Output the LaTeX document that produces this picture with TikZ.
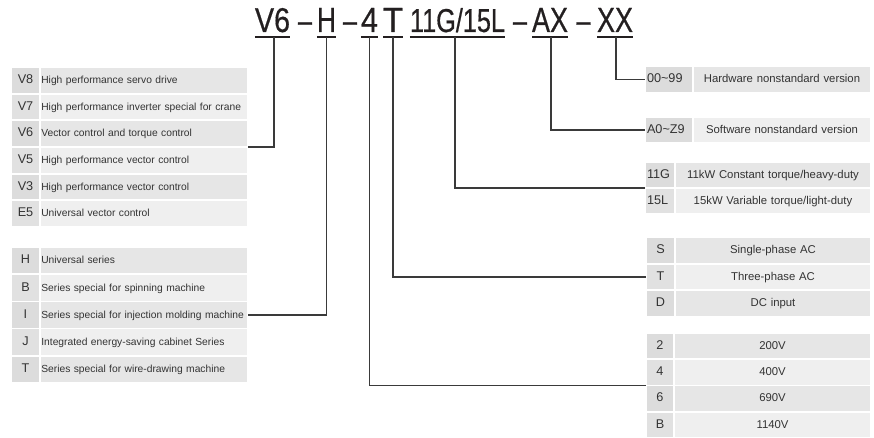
\documentclass[tikz,border=0pt]{standalone}
\usepackage{fontspec}
\setmainfont{Liberation Sans}
\newfontfamily\titlefont{Liberation Sans}[FakeBold=0.6]
\usetikzlibrary{calc}
\definecolor{cD}{HTML}{DCDCDC}
\definecolor{cL}{HTML}{E1E1E1}
\definecolor{dD}{HTML}{E6E6E6}
\definecolor{dL}{HTML}{EFEFEF}
\definecolor{txt}{HTML}{333333}
\definecolor{titlec}{HTML}{231F20}
\definecolor{linec}{HTML}{3A3A3A}
\newcommand\codefont{\fontsize{9.5}{11}\selectfont}
\newcommand\ldfont{\fontsize{7.7}{10}\selectfont}
\newcommand\rdfont{\fontsize{8.5}{10}\selectfont}
\newcommand\tk[2]{\resizebox{#1}{18pt}{\titlefont\fontsize{25}{25}\selectfont #2}}
\newcommand\tdash{\scalebox{0.75}[1]{\titlefont\fontsize{25}{25}\selectfont –}}
% #1 name, #2 x, #3 y, #4 code style, #5 desc style, #6 height, #7 code, #8 desc
\newcommand\trow[8]{%
  \node[cell,#4,minimum height=#6] (#1c) at (#2,#3) {#7};
  \node[cell,#5,minimum height=#6] (#1) at (#1c.north east) {#8};}
\begin{document}
\begin{tikzpicture}[x=0.75pt,y=-0.75pt,
  cell/.style={draw=white, line width=1.3pt, anchor=north west, inner ysep=0pt,
    inner xsep=2pt, outer sep=0pt, text height=7pt, text depth=2pt, text=txt},
  lcode/.style={text width=17.75pt, align=center, font=\codefont},
  ldesc/.style={text width=154pt, inner xsep=1pt, align=left, font=\ldfont},
  rcodeA/.style={align=left, font=\codefont, inner xsep=1.5pt, text width=33pt},
  rdescA/.style={text width=129.5pt, align=center, font=\rdfont},
  rcodeB/.style={text width=19.5pt, align=left, font=\codefont, inner xsep=1.5pt},
  rdescB/.style={text width=143pt, align=center, font=\rdfont},
  rcodeC/.style={text width=17.75pt, align=center, font=\codefont},
  rdescC/.style={text width=143pt, align=center, font=\rdfont},
  rcodeD/.style={text width=17pt, align=center, font=\codefont},
  rdescD/.style={text width=143.75pt, align=center, font=\rdfont},
  title/.style={inner sep=0pt, outer sep=0pt, anchor=base, text=titlec},
  uline/.style={draw=titlec, line width=1.2pt},
  conn/.style={draw=linec, line width=1.1pt}]
\useasboundingbox (0,0) rectangle (874,438);

% ---- title code ----
\node[title] (tV) at (272.5,32) {\tk{26.3pt}{V6}};
\node[title] (d1) at (305,32) {\tdash};
\node[title] (tH) at (326.5,32) {\tk{14.3pt}{H}};
\node[title] (d2) at (350,32) {\tdash};
\node[title] (t4) at (369.5,32) {\tk{12.8pt}{4}};
\node[title] (tT) at (393,32) {\tk{15pt}{T}};
\node[title] (tG) at (457.5,32) {\tk{71.3pt}{11G/15L}};
\node[title] (d3) at (520,32) {\tdash};
\node[title] (tA) at (550,32) {\tk{27pt}{AX}};
\node[title] (d4) at (583.5,32) {\tdash};
\node[title] (tX) at (615,32) {\tk{27pt}{XX}};
\foreach \t in {tV,tH,t4,tT,tG,tA,tX}
  \draw[uline] ($(\t.base west)+(0,5)$) -- ($(\t.base east)+(0,5)$);

% ---- left table 1 ----
\trow{V8}{11}{67}{lcode,fill=cD}{ldesc,fill=dD}{20pt}{V8}{High performance servo drive}
\trow{V7}{11}{93.67}{lcode,fill=cL}{ldesc,fill=dL}{20pt}{V7}{High performance inverter special for crane}
\trow{V6}{11}{120.33}{lcode,fill=cD}{ldesc,fill=dD}{20pt}{V6}{Vector control and torque control}
\trow{V5}{11}{147}{lcode,fill=cL}{ldesc,fill=dL}{20pt}{V5}{High performance vector control}
\trow{V3}{11}{173.67}{lcode,fill=cD}{ldesc,fill=dD}{20pt}{V3}{High performance vector control}
\trow{E5}{11}{200.33}{lcode,fill=cL}{ldesc,fill=dL}{20pt}{E5}{Universal vector control}

% ---- left table 2 ----
\trow{sH}{11}{247}{lcode,fill=cD}{ldesc,fill=dD}{20.4pt}{H}{Universal series}
\trow{sB}{11}{274.2}{lcode,fill=cL}{ldesc,fill=dL}{20.4pt}{B}{Series special for spinning machine}
\trow{sI}{11}{301.4}{lcode,fill=cD}{ldesc,fill=dD}{20.4pt}{I}{Series special for injection molding machine}
\trow{sJ}{11}{328.6}{lcode,fill=cL}{ldesc,fill=dL}{20.4pt}{J}{Integrated energy-saving cabinet Series}
\trow{sT}{11}{355.8}{lcode,fill=cD}{ldesc,fill=dD}{20.4pt}{T}{Series special for wire-drawing machine}

% ---- right tables ----
\trow{rX}{645}{66}{rcodeA,fill=cD}{rdescA,fill=dD}{20.25pt}{00\textasciitilde 99}{Hardware nonstandard version}
\trow{rA}{645}{117}{rcodeA,fill=cD}{rdescA,fill=dL}{19.5pt}{A0\textasciitilde Z9}{Software nonstandard version}
\trow{r11}{645}{162}{rcodeB,fill=cD}{rdescB,fill=dD}{19.5pt}{11G}{11kW Constant torque/heavy-duty}
\trow{r15}{645}{188}{rcodeB,fill=cL}{rdescB,fill=dL}{19.5pt}{15L}{15kW Variable torque/light-duty}

\trow{rS}{646}{237}{rcodeC,fill=cD}{rdescC,fill=dD}{20pt}{S}{Single-phase AC}
\trow{rT}{646}{263.67}{rcodeC,fill=cL}{rdescC,fill=dL}{20pt}{T}{Three-phase AC}
\trow{rD}{646}{290.33}{rcodeC,fill=cD}{rdescC,fill=dD}{20pt}{D}{DC input}

\trow{r2}{646}{333}{rcodeD,fill=cD}{rdescD,fill=dD}{19.7pt}{2}{200V}
\trow{r4}{646}{359.25}{rcodeD,fill=cL}{rdescD,fill=dL}{19.7pt}{4}{400V}
\trow{r6}{646}{385.5}{rcodeD,fill=cD}{rdescD,fill=dD}{19.7pt}{6}{690V}
\trow{rB}{646}{411.75}{rcodeD,fill=cL}{rdescD,fill=dL}{19.7pt}{B}{1140V}

% ---- connectors ----
\draw[conn] ($(tV.base)+(1.5,5)$) |- (V6.south east);
\draw[conn] ($(tH.base)+(0,5)$) |- (sI.east);
\draw[conn] ($(t4.base)+(0,5)$) |- (r4c.south west);
\draw[conn] ($(tT.base)+(0,5)$) |- (rTc.west);
\draw[conn] ($(tG.base)+(-2.5,5)$) |- (r11c.south west);
\draw[conn] ($(tA.base)+(1,5)$) |- (rAc.west);
\draw[conn] ($(tX.base)+(1,5)$) |- (rXc.west);
\end{tikzpicture}
\end{document}
